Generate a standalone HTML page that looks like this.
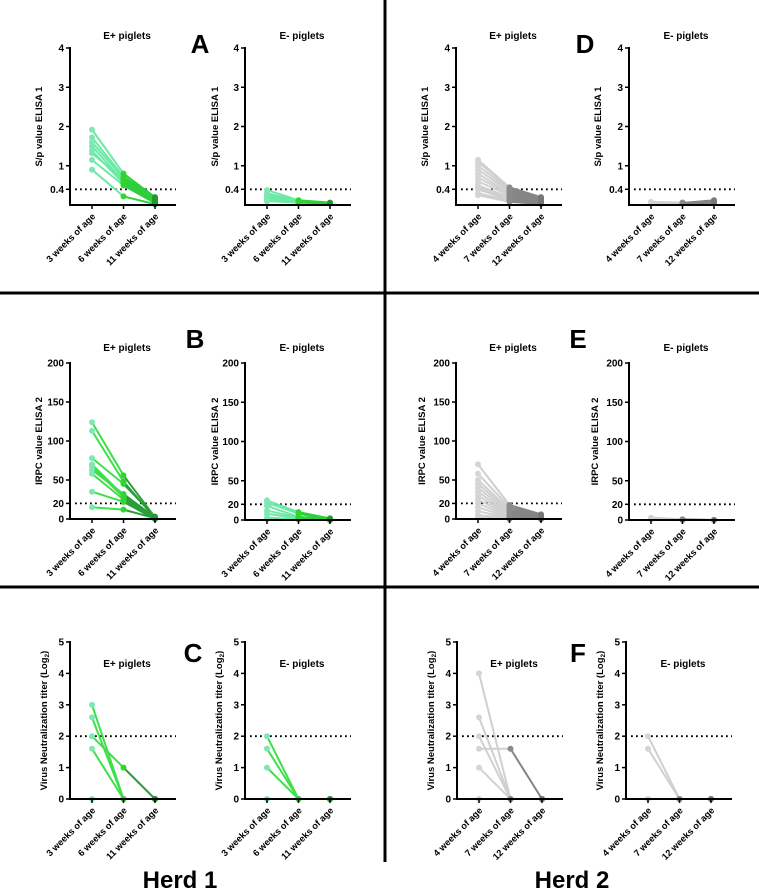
<!DOCTYPE html>
<html><head><meta charset="utf-8"><style>
html,body{margin:0;padding:0;background:#fff;}
svg{display:block;font-family:"Liberation Sans",Arial,sans-serif;font-weight:bold;}
</style></head><body>
<svg id="fig" width="759" height="892" viewBox="0 0 759 892" xmlns="http://www.w3.org/2000/svg">
<line x1="0" y1="293" x2="759" y2="293" stroke="#000" stroke-width="3"/>
<line x1="0" y1="587" x2="759" y2="587" stroke="#000" stroke-width="3"/>
<line x1="385" y1="0" x2="385" y2="862" stroke="#000" stroke-width="3"/>
<text x="200" y="53" font-size="26" text-anchor="middle">A</text>
<text x="195" y="348" font-size="26" text-anchor="middle">B</text>
<text x="193" y="662" font-size="26" text-anchor="middle">C</text>
<text x="585" y="53" font-size="26" text-anchor="middle">D</text>
<text x="578" y="348" font-size="26" text-anchor="middle">E</text>
<text x="578" y="662" font-size="26" text-anchor="middle">F</text>
<text x="180" y="888" font-size="24" text-anchor="middle">Herd 1</text>
<text x="572" y="888" font-size="24" text-anchor="middle">Herd 2</text>
</svg>
<script>
const herd1Cats = ["3 weeks of age","6 weeks of age","11 weeks of age"];
const herd2Cats = ["4 weeks of age","7 weeks of age","12 weeks of age"];
const ticksElisa1 = [0.4,1,2,3,4];
const ticksElisa2 = [0,20,50,100,150,200];
const ticksVN = [0,1,2,3,4,5];
const cutElisa1 = 0.4, cutElisa2 = 20, cutVN = 2;

const aPlus = [[1.92,0.8,0.2],[1.72,0.72,0.18],[1.6,0.68,0.15],[1.5,0.6,0.12],[1.38,0.55,0.1],[1.32,0.65,0.08],[1.15,0.5,0.05],[0.9,0.22,0.02]];
const aMinus = [[0.38,0.12,0.06],[0.3,0.1,0.05],[0.25,0.1,0.05],[0.2,0.08,0.05],[0.15,0.07,0.04],[0.1,0.06,0.04]];
const bPlus = [[124,56,2],[113,48,1],[78,45,3],[70,30,0],[67,28,1],[63,32,2],[58,25,1],[35,22,0],[15,12,1]];
const bMinus = [[25,10,2],[22,8,1],[18,4,1],[12,3,0],[8,2,0],[3,1,0],[1,1,1]];
const cPlus = [[3,0,0],[2.6,0,0],[2,1,0],[1.6,0,0],[0,0,0]];
const cMinus = [[2,0,0],[1.6,0,0],[1,0,0],[0,0,0]];
const dPlus = [[1.15,0.45,0.2],[1.1,0.42,0.18],[1.0,0.38,0.15],[0.9,0.35,0.15],[0.8,0.3,0.12],[0.7,0.28,0.1],[0.6,0.25,0.1],[0.5,0.2,0.08],[0.45,0.15,0.05],[0.4,0.12,0.05],[0.3,0.1,0.04],[0.25,0.08,0.03]];
const dMinus = [[0.08,0.06,0.06],[0.07,0.05,0.05],[0.06,0.05,0.12],[0.05,0.06,0.08]];
const ePlus = [[70,18,6],[58,15,5],[50,12,4],[45,10,3],[40,8,3],[35,6,2],[30,5,2],[25,4,1],[20,3,1],[15,2,1],[10,1,0],[5,1,0],[2,0,0]];
const eMinus = [[3,1,0],[2,0,0],[1,0,0]];
const fPlus = [[4,0,0],[2.6,0,0],[2,0,0],[1.6,1.6,0],[1,0,0],[0,0,0]];
const fMinus = [[2,0,0],[1.6,0,0],[0,0,0]];

const NS = "http://www.w3.org/2000/svg";
const svg = document.getElementById("fig");
const green = {p:["#7de8b2","#2fd62f","#1f9a2e"], s:["#6ee8a6","#2ccf3a"]};
const green2 = {p:["#7de8b2","#2fd62f","#1f9a2e"], s:["#3ee04a","#2a9e3a"]};
const grey = {p:["#d4d4d4","#8a8a8a","#777777"], s:["#d0d0d0","#858585"]};
function mk(tag, attrs, parent){const e=document.createElementNS(NS,tag);for(const k in attrs)e.setAttribute(k,attrs[k]);(parent||svg).appendChild(e);return e;}

function panel(name, ax, y0, yTop, max, ticks, cut, cats, series, pal, title, titleY, yTitle, yTitleX){
  const g = mk("g",{});
  
  
  const xEnd = ax + 106;
  const xs = i => ax + 22 + i*31.5;
  const ys = v => y0 - v*(y0-yTop)/max;
  const t = mk("text",{x:ax+57,y:titleY,"font-size":"10","text-anchor":"middle"},g);
  
  
  t.textContent = title;
  const yt = mk("text",{x:yTitleX,y:(y0+yTop)/2,"font-size":"9.5","text-anchor":"middle",transform:"rotate(-90 "+yTitleX+" "+((y0+yTop)/2)+")"},g);
  
  
  yt.innerHTML = yTitle;
  const dl = mk("line",{x1:ax+5,x2:xEnd,y1:ys(cut),y2:ys(cut),stroke:"#000","stroke-width":"1.8","stroke-dasharray":"1.8 3.2"},g);
  
  
  series.forEach(s=>{
    for(let i=0;i<2;i++){
      const l = mk("line",{x1:xs(i),y1:ys(s[i]),x2:xs(i+1),y2:ys(s[i+1]),stroke:pal.s[i],"stroke-width":"2"},g);
      
      
    }
  });
  series.forEach(s=>{
    s.forEach((v,i)=>{
      const c = mk("circle",{cx:xs(i),cy:ys(v),r:"3",fill:pal.p[i]},g);
      
      
    });
  });
  const ya = mk("line",{x1:ax,x2:ax,y1:yTop-1,y2:y0+1,stroke:"#000","stroke-width":"2"},g);
  
  
  const xa = mk("line",{x1:ax-1,x2:xEnd,y1:y0,y2:y0,stroke:"#000","stroke-width":"2"},g);
  
  
  ticks.forEach(v=>{
    mk("line",{x1:ax-4,x2:ax,y1:ys(v),y2:ys(v),stroke:"#000","stroke-width":"1.5"},g);
    const tl = mk("text",{x:ax-6,y:ys(v)+3.5,"font-size":"10","text-anchor":"end"},g);
    
    
    tl.textContent = v;
  });
  cats.forEach((c,i)=>{
    mk("line",{x1:xs(i),x2:xs(i),y1:y0,y2:y0+4,stroke:"#000","stroke-width":"1.5"},g);
    const px = xs(i)+4, py = y0+12;
    const xl = mk("text",{x:px,y:py,"font-size":"9.2","text-anchor":"end",transform:"rotate(-45 "+px+" "+py+")"},g);
    
    
    xl.textContent = c;
  });
}
const t1 = "S/p value ELISA 1", t2 = "IRPC value ELISA 2", t3 = "Virus Neutralization titer (Log<tspan font-size='6.5' dy='2'>2</tspan><tspan dy='-2'>)</tspan>";
panel("panel-a-eplus",70,205,48,4,ticksElisa1,cutElisa1,herd1Cats,aPlus,green,"E+ piglets",39,t1,42);
panel("panel-a-eminus",245,205,48,4,ticksElisa1,cutElisa1,herd1Cats,aMinus,green,"E- piglets",39,t1,218);
panel("panel-b-eplus",70,519,363,200,ticksElisa2,cutElisa2,herd1Cats,bPlus,green2,"E+ piglets",351,t2,42);
panel("panel-b-eminus",245,520,363,200,ticksElisa2,cutElisa2,herd1Cats,bMinus,green,"E- piglets",351,t2,218);
panel("panel-c-eplus",70,799,642,5,ticksVN,cutVN,herd1Cats,cPlus,green2,"E+ piglets",667,t3,47);
panel("panel-c-eminus",245,799,642,5,ticksVN,cutVN,herd1Cats,cMinus,green2,"E- piglets",667,t3,222);
panel("panel-d-eplus",456,205,48,4,ticksElisa1,cutElisa1,herd2Cats,dPlus,grey,"E+ piglets",39,t1,428);
panel("panel-d-eminus",629,205,48,4,ticksElisa1,cutElisa1,herd2Cats,dMinus,grey,"E- piglets",39,t1,601);
panel("panel-e-eplus",456,519,363,200,ticksElisa2,cutElisa2,herd2Cats,ePlus,grey,"E+ piglets",351,t2,425);
panel("panel-e-eminus",629,520,363,200,ticksElisa2,cutElisa2,herd2Cats,eMinus,grey,"E- piglets",351,t2,598);
panel("panel-f-eplus",457,799,642,5,ticksVN,cutVN,herd2Cats,fPlus,grey,"E+ piglets",667,t3,434);
panel("panel-f-eminus",626,799,642,5,ticksVN,cutVN,herd2Cats,fMinus,grey,"E- piglets",667,t3,603);
</script>
</body></html>
